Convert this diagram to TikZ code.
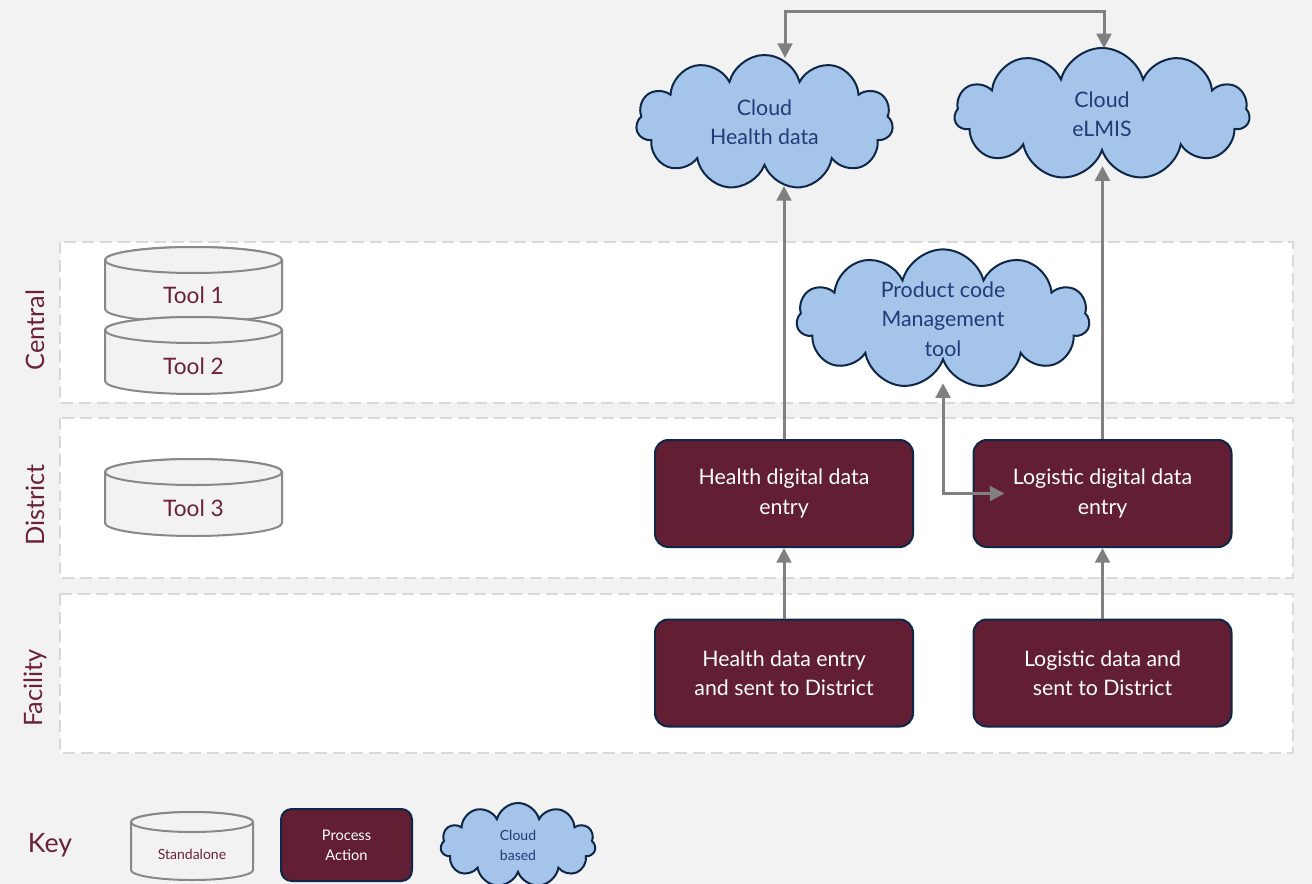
\documentclass[tikz,border=0pt]{standalone}
\usepackage{fontspec}
\setmainfont{Lato}
\usetikzlibrary{shapes.symbols,arrows.meta}
\definecolor{bg}{HTML}{F2F2F2}
\definecolor{laneborder}{HTML}{D9D9D9}
\definecolor{maroontext}{HTML}{6B2238}
\definecolor{procfill}{HTML}{621E33}
\definecolor{navy}{HTML}{0E2748}
\definecolor{cloudfill}{HTML}{A5C4EA}
\definecolor{cloudtext}{HTML}{1F3C78}
\definecolor{arrowgray}{HTML}{808080}
\definecolor{cylborder}{HTML}{888888}
\newcommand\fs[2]{\fontsize{#1}{#2}\selectfont}
% name, xl, xr, ytop, ybot, ry, text, font
\newcommand\mycyl[8]{%
  \path[cylshape] (#2,#4+#6) -- (#2,#5-#6)
     arc[start angle=180,end angle=0,x radius={(#3-#2)/2},y radius=#6]
     -- (#3,#4+#6)
     arc[start angle=0,end angle=-180,x radius={(#3-#2)/2},y radius=#6] -- cycle;
  \path[cylshape] ({(#2+#3)/2},#4+#6) ellipse[x radius={(#3-#2)/2},y radius=#6];
  \node[cyltext,font=#8] (#1) at ({(#2+#3)/2},{(#4+2*#6+#5)/2-2}) {#7};
}
\begin{document}
\begin{tikzpicture}[x=0.75pt,y=-0.75pt,
  lane/.style={draw=laneborder,line width=1.5pt,dash pattern=on 9pt off 4.5pt,fill=white},
  lanelabel/.style={rotate=90,text=maroontext,font=\fs{19}{23}},
  proc/.style={draw=navy,line width=1.5pt,fill=procfill,rounded corners=10pt,text=white,align=center,
     minimum width=193.5pt,minimum height=80.25pt,inner sep=0pt,font=\fs{16}{22}},
  cloudnode/.style={cloud,cloud puffs=11,cloud ignores aspect,draw=navy,fill=cloudfill,line width=1.5pt,
     text=cloudtext,align=center,inner sep=0pt,font=\fs{16}{22}},
  cylshape/.style={draw=cylborder,fill=bg,line width=1.5pt},
  cyltext/.style={text=maroontext,align=center,inner sep=0pt},
  tip/.tip={Triangle[length=11pt,width=11pt]},
  arr/.style={draw=arrowgray,line width=2.25pt,-tip},
  arrboth/.style={draw=arrowgray,line width=2.25pt,tip-tip}
]
\useasboundingbox (0,0) rectangle (1312,884);
\fill[bg] (0,0) rectangle (1312,884);

% lanes
\draw[lane] (60,242) rectangle (1293,403);
\draw[lane] (60,418) rectangle (1293,578);
\draw[lane] (60,594) rectangle (1293,753);
\node[lanelabel] (lcentral) at (35,330) {Central};
\node[lanelabel] (ldistrict) at (35,505) {District};
\node[lanelabel] (lfacility) at (35,688) {Facility};

% tools
\mycyl{tool1}{105}{282}{247}{322}{13}{Tool 1}{\fs{17}{20}}
\mycyl{tool2}{105}{282}{317}{394}{13}{Tool 2}{\fs{17}{20}}
\mycyl{tool3}{105}{282}{459}{536}{13}{Tool 3}{\fs{17}{20}}

% clouds
\node[cloudnode,minimum width=192.75pt,minimum height=101.25pt] (cH) at (764.5,122.5) {Cloud\\Health data};
\node[cloudnode,minimum width=221.25pt,minimum height=99pt] (cE) at (1102,114) {Cloud\\eLMIS};
\node[cloudnode,minimum width=219.75pt,minimum height=103.5pt] (pc) at (943,319) {Product code\\Management\\tool};

% process boxes
\node[proc] (hd) at (784,493.5) {Health digital data\\entry};
\node[proc] (ld) at (1102.5,493.5) {Logistic digital data\\entry};
\node[proc] (hf) at (784,673) {Health data entry\\and sent to District};
\node[proc] (lf) at (1102.5,673) {Logistic data and\\sent to District};

% connectors
\coordinate (t1) at (785,12);
\coordinate (t2) at (1104,12);
\draw[arrboth] ([yshift=-3pt]t1 |- cH.north) -- (t1) -- (t2) -- ([yshift=-1pt]t2 |- cE.north);
\draw[arr] (hd.north) -- ([yshift=-14pt]hd.north |- cH.south);
\draw[arr] (ld.north) -- ([yshift=-10pt]ld.north |- cE.south);
\draw[arrboth] ([yshift=-16pt]pc.south) |- ([xshift=24pt]ld.west);
\draw[arr] (hf.north) -- (hd.south);
\draw[arr] (lf.north) -- (ld.south);

% key
\node[text=maroontext,font=\fs{20}{24}] (key) at (50,845) {Key};
\mycyl{kstand}{131}{253}{812}{880}{10}{Standalone}{\fs{10.5}{13}}
\node[proc,minimum width=98.25pt,minimum height=54pt,rounded corners=8pt,font=\fs{11}{15}] (kproc) at (346.5,845) {Process\\Action};
\node[cloudnode,minimum width=116.25pt,minimum height=63pt,font=\fs{10.5}{15}] (kcloud) at (518,845) {Cloud\\based};
\end{tikzpicture}
\end{document}
